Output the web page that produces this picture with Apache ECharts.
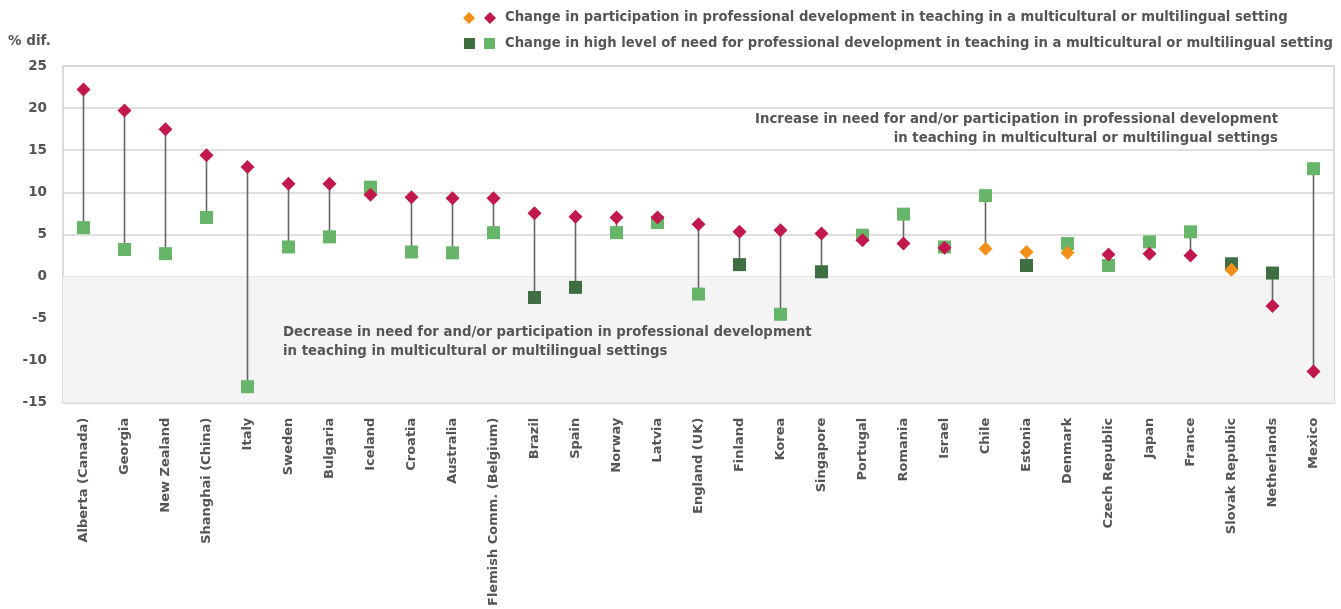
<!DOCTYPE html>
<html><head><meta charset="utf-8">
<script src="https://cdn.jsdelivr.net/npm/echarts@6/dist/echarts.min.js"></script>
<style>html,body{margin:0;padding:0;background:#fff}#c{width:1341px;height:609px}</style>
</head><body><div id="c"></div>
<script>
const categories = ['Alberta (Canada)','Georgia','New Zealand','Shanghai (China)','Italy','Sweden','Bulgaria','Iceland','Croatia','Australia','Flemish Comm. (Belgium)','Brazil','Spain','Norway','Latvia','England (UK)','Finland','Korea','Singapore','Portugal','Romania','Israel','Chile','Estonia','Denmark','Czech Republic','Japan','France','Slovak Republic','Netherlands','Mexico'];
const participation = [22.2,19.7,17.5,14.4,13.0,11.0,11.0,9.7,9.4,9.3,9.3,7.5,7.1,7.0,7.0,6.2,5.3,5.5,5.1,4.3,3.9,3.4,3.3,2.9,2.8,2.6,2.7,2.5,0.8,-3.5,-11.3];
const need = [5.8,3.2,2.7,7.0,-13.1,3.5,4.7,10.6,2.9,2.8,5.2,-2.5,-1.3,5.2,6.4,-2.1,1.4,-4.5,0.55,4.9,7.4,3.5,9.6,1.3,3.9,1.3,4.1,5.3,1.5,0.4,12.8];
// 1 = statistically significant change, 0 = not significant
const participationSig = [1,1,1,1,1,1,1,1,1,1,1,1,1,1,1,1,1,1,1,1,1,1,0,0,0,1,1,1,0,1,1];
const needSig = [1,1,1,1,1,1,1,1,1,1,1,0,0,1,1,1,0,1,0,1,1,1,1,0,1,1,1,1,0,0,1];
const yTicks = {min:-15, max:25, interval:5};
const legendTexts = ['Change in participation in professional development in teaching in a multicultural or multilingual setting','Change in high level of need for professional development in teaching in a multicultural or multilingual setting'];
const noteIncrease = ['Increase in need for and/or participation in professional development','in teaching in multicultural or multilingual settings'];
const noteDecrease = ['Decrease in need for and/or participation in professional development','in teaching in multicultural or multilingual settings'];

const C_SIG_P='#c1184d', C_NS_P='#f39019', C_SIG_N='#67b568', C_NS_N='#3e6e41';
const FONT="'DejaVu Sans', 'Liberation Sans', Arial, sans-serif";
const TXT='#555555';

function diamond(cx,cy,r){return [[cx,cy-r],[cx+r,cy],[cx,cy+r],[cx-r,cy]];}

const chart = echarts.init(document.getElementById('c'));
const rangeData = categories.map((c,i)=>[i, participation[i], need[i]]);
chart.setOption({
  animation:false,
  grid:{left:63,right:7,top:66,bottom:204,show:true,borderColor:'#cfcfcf',borderWidth:1.5,backgroundColor:'transparent'},
  xAxis:{type:'category',data:categories,boundaryGap:true,
    axisLine:{show:false},axisTick:{show:false},splitLine:{show:false},
    axisLabel:{rotate:90,interval:0,margin:15,color:TXT,fontFamily:FONT,fontWeight:'bold',fontSize:13}},
  yAxis:{type:'value',min:yTicks.min,max:yTicks.max,interval:yTicks.interval,
    axisLine:{show:false},axisTick:{show:false},
    splitLine:{lineStyle:{color:'#d4d4d4',width:1.5}},
    axisLabel:{margin:16,color:TXT,fontFamily:FONT,fontWeight:'bold',fontSize:13.5}},
  series:[
    {type:'custom',z:2,data:rangeData,
     renderItem:function(params,api){
       const p1=api.coord([api.value(0),api.value(1)]);
       const p2=api.coord([api.value(0),api.value(2)]);
       return {type:'line',shape:{x1:p1[0],y1:p1[1],x2:p2[0],y2:p2[1]},style:{stroke:'#666666',lineWidth:1.6}};
     },
     encode:{x:0,y:[1,2]},
     markArea:{silent:true,itemStyle:{color:'#f4f4f4'},data:[[{yAxis:yTicks.min},{yAxis:0}]]}
    },
    {type:'scatter',z:3,symbol:'rect',symbolSize:13,
     data:need.map((v,i)=>({value:[i,v],itemStyle:{opacity:1,color:needSig[i]?C_SIG_N:C_NS_N}}))},
    {type:'scatter',z:4,symbol:'diamond',symbolSize:[14,14],
     data:participation.map((v,i)=>({value:[i,v],itemStyle:{opacity:1,color:participationSig[i]?C_SIG_P:C_NS_P}}))}
  ],
  graphic:[
    {type:'text',z:100,x:8,y:41,style:{text:'% dif.',fill:TXT,font:'bold 13.5px '+FONT,verticalAlign:'middle'}},
    {type:'polygon',z:100,shape:{points:diamond(469,18,6)},style:{fill:C_NS_P}},
    {type:'polygon',z:100,shape:{points:diamond(490,18,6)},style:{fill:C_SIG_P}},
    {type:'text',z:100,x:505,y:18,style:{text:legendTexts[0],fill:TXT,font:'bold 13.2px '+FONT,verticalAlign:'middle'}},
    {type:'rect',z:100,shape:{x:464,y:38,width:11,height:11},style:{fill:C_NS_N}},
    {type:'rect',z:100,shape:{x:484,y:38,width:11,height:11},style:{fill:C_SIG_N}},
    {type:'text',z:100,x:505,y:43.5,style:{text:legendTexts[1],fill:TXT,font:'bold 13.2px '+FONT,verticalAlign:'middle'}},
    {type:'text',z:100,x:1278,y:120,style:{text:noteIncrease[0],fill:TXT,font:'bold 13.3px '+FONT,align:'right',verticalAlign:'middle'}},
    {type:'text',z:100,x:1278,y:139,style:{text:noteIncrease[1],fill:TXT,font:'bold 13.3px '+FONT,align:'right',verticalAlign:'middle'}},
    {type:'text',z:100,x:283,y:333,style:{text:noteDecrease[0],fill:TXT,font:'bold 13.3px '+FONT,verticalAlign:'middle'}},
    {type:'text',z:100,x:283,y:352,style:{text:noteDecrease[1],fill:TXT,font:'bold 13.3px '+FONT,verticalAlign:'middle'}}
  ]
});
</script></body></html>
